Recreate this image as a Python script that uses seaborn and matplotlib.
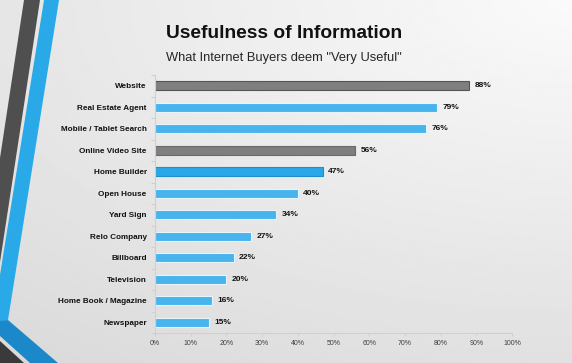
import numpy as np
import pandas as pd
import seaborn as sns
import matplotlib.pyplot as plt
from matplotlib.patches import Polygon
from matplotlib.ticker import FixedLocator

# Data
sources = ['Website', 'Real Estate Agent', 'Mobile / Tablet Search', 'Online Video Site',
           'Home Builder', 'Open House', 'Yard Sign', 'Relo Company', 'Billboard',
           'Television', 'Home Book / Magazine', 'Newspaper']
percent = [88, 79, 76, 56, 47, 40, 34, 27, 22, 20, 16, 15]
bar_colors = ['#7f7f7f', '#47b4ee', '#47b4ee', '#7f7f7f', '#2aa7e6', '#47b4ee',
              '#47b4ee', '#47b4ee', '#47b4ee', '#47b4ee', '#47b4ee', '#47b4ee']
edge_colors = ['#555555', '#e8f4fb', '#e8f4fb', '#6a6a6a', '#1d8fcc', '#e8f4fb',
               '#e8f4fb', '#e8f4fb', '#e8f4fb', '#e8f4fb', '#e8f4fb', '#e8f4fb']

df = pd.DataFrame({'Source': sources, 'Percent': percent})

plt.rcParams['font.family'] = ['Liberation Sans', 'DejaVu Sans']

W, H = 572, 363
fig = plt.figure(figsize=(W / 100, H / 100), dpi=100)

# background gradient + decorative stripes (pixel coordinates)
bg = fig.add_axes([0, 0, 1, 1], zorder=-10)
yy, xx = np.mgrid[0:1:200j, 0:1:300j]
shade = 0.98 - 0.10 * np.sqrt(((1 - xx) * 0.8) ** 2 + yy ** 2)
bg.imshow(shade, cmap='gray', vmin=0, vmax=1, extent=[0, W, H, 0], aspect='auto')
bg.set_xlim(0, W)
bg.set_ylim(H, 0)
bg.axis('off')
bg.add_patch(Polygon([(24, 0), (40, 0), (0, 262), (0, 158)], color='#4f4f4f', lw=0))
bg.add_patch(Polygon([(44, 0), (59, 0), (8, 320), (0, 322), (0, 275)], color='#29a9e8', lw=0))
bg.add_patch(Polygon([(0, 321), (8, 320), (58, 363), (30, 363), (0, 336)], color='#1a88c9', lw=0))
bg.add_patch(Polygon([(0, 341), (24, 363), (0, 363)], color='#3a3a3a', lw=0))

ax = fig.add_axes([155 / W, 1 - 333 / H, 357 / W, 258 / H])
ax.patch.set_alpha(0)
sns.barplot(data=df, x='Percent', y='Source', hue='Source',
            palette=dict(zip(sources, bar_colors)), width=0.44, legend=False,
            saturation=1, linewidth=0.8, ax=ax)
for patch, ec in zip(ax.patches, edge_colors):
    patch.set_edgecolor(ec)

for cont in ax.containers:
    ax.bar_label(cont, fmt='%d%%', padding=4, fontsize=6, fontweight='bold', color='#111111')

ax.set_xlim(0, 100)
ax.set_xticks(range(0, 101, 10))
ax.set_xticklabels([f'{v}%' for v in range(0, 101, 10)])
ax.tick_params(axis='x', length=2, color='#d0d0d0', labelsize=5, labelcolor='#404040', pad=3)
ax.tick_params(axis='y', which='major', length=0, pad=6, labelsize=5.9)
for lab in ax.get_yticklabels():
    lab.set_fontweight('bold')
    lab.set_color('#111111')
ax.yaxis.set_minor_locator(FixedLocator(np.arange(-0.5, len(sources), 1)))
ax.tick_params(axis='y', which='minor', length=3, color='#d0d0d0', width=0.8)
ax.set_xlabel('')
ax.set_ylabel('')
for s in ['top', 'right']:
    ax.spines[s].set_visible(False)
for s in ['left', 'bottom']:
    ax.spines[s].set_color('#d0d0d0')
    ax.spines[s].set_linewidth(0.8)

fig.text(0.496, 1 - 34 / H, 'Usefulness of Information', ha='center', va='center',
         fontsize=13.8, fontweight='bold', color='#111111')
fig.text(0.496, 1 - 58 / H, 'What Internet Buyers deem "Very Useful"', ha='center',
         va='center', fontsize=9.3, color='#262626')

fig.savefig('out.png', dpi=100)
